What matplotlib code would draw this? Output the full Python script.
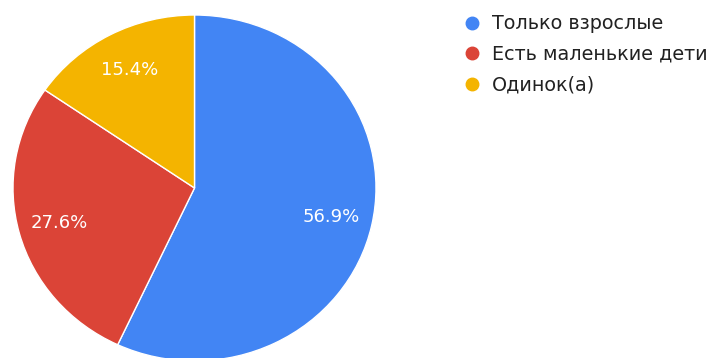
import numpy as np
import matplotlib
matplotlib.use('Agg')
from matplotlib import pyplot as plt
from matplotlib.lines import Line2D

labels = ['Только взрослые', 'Есть маленькие дети', 'Одинок(а)']
values = [56.9, 27.6, 15.4]
colors = ['#4285F4', '#DB4437', '#F4B400']

fig = plt.figure(figsize=(7.15, 3.58), dpi=100)
ax = fig.add_axes([13 / 715, -3 / 358, 363 / 715, 346 / 358])

wedges, texts = ax.pie(
    values, colors=colors, startangle=90, counterclock=False,
    wedgeprops=dict(edgecolor='white', linewidth=1))
ax.set_aspect('auto')
ax.set_xlim(-1, 1)
ax.set_ylim(-1, 1)

# percentage labels, kept (they sum to 99.9)
total = sum(values)
start = 90.0
for v in values:
    mid = np.deg2rad(start - v / total * 180.0)
    start -= v / total * 360.0
    ax.text(0.77 * np.cos(mid), 0.77 * np.sin(mid), f'{v:.1f}%',
            ha='center', va='center', color='white', fontsize=13)

handles = [Line2D([], [], marker='o', linestyle='none', markersize=9,
                  markerfacecolor=c, markeredgecolor=c) for c in colors]
fig.legend(handles, labels, loc='upper left', bbox_to_anchor=(445 / 715, 1 + 3 / 358),
           frameon=False, fontsize=13.8, handletextpad=0.53, labelspacing=0.6,
           handlelength=1.0, labelcolor='#212121')

fig.savefig('out.png', dpi=100)
